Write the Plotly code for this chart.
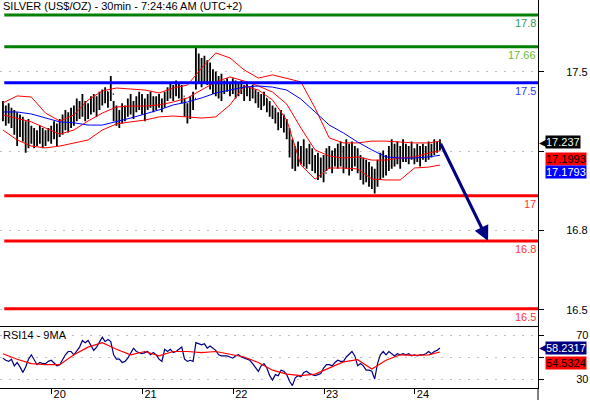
import pandas as pd
import plotly.graph_objects as go

# ---------------- data ----------------
title_text = "SILVER (US$/OZ) - 30min - 7:24:46 AM (UTC+2)"
rsi_title = "RSI14 - 9MA"

first_bar_time = "2017-11-19 11:07"
bar_step = "45min"

high = [17.42, 17.40, 17.41, 17.39, 17.38, 17.37, 17.36, 17.35, 17.33, 17.34,
        17.31, 17.30, 17.29, 17.31, 17.30, 17.29, 17.30, 17.31, 17.33, 17.32,
        17.34, 17.36, 17.38, 17.37, 17.39, 17.40, 17.43, 17.42, 17.45, 17.42,
        17.41, 17.44, 17.45, 17.44, 17.46, 17.47, 17.48, 17.46, 17.53, 17.42,
        17.40, 17.38, 17.41, 17.40, 17.43, 17.45, 17.42, 17.44, 17.46, 17.45,
        17.43, 17.45, 17.46, 17.44, 17.44, 17.45, 17.43, 17.46, 17.48, 17.50,
        17.49, 17.51, 17.50, 17.49, 17.43, 17.41, 17.44, 17.46, 17.66, 17.63,
        17.61, 17.62, 17.60, 17.59, 17.56, 17.55, 17.53, 17.54, 17.51, 17.52,
        17.50, 17.52, 17.51, 17.50, 17.51, 17.49, 17.50, 17.48, 17.49, 17.47,
        17.46, 17.45, 17.46, 17.43, 17.42, 17.40, 17.39, 17.37, 17.38, 17.36,
        17.34, 17.30, 17.25, 17.22, 17.24, 17.22, 17.25, 17.21, 17.23, 17.21,
        17.18, 17.19, 17.17, 17.18, 17.21, 17.22, 17.20, 17.21, 17.23, 17.24,
        17.22, 17.25, 17.23, 17.24, 17.22, 17.21, 17.18, 17.17, 17.16, 17.15,
        17.13, 17.12, 17.16, 17.19, 17.20, 17.18, 17.22, 17.25, 17.23, 17.24,
        17.22, 17.25, 17.23, 17.22, 17.24, 17.21, 17.23, 17.22, 17.23, 17.22,
        17.24, 17.23, 17.25, 17.24, 17.25]
low = [17.33, 17.31, 17.32, 17.30, 17.27, 17.22, 17.26, 17.24, 17.19, 17.21,
       17.23, 17.21, 17.22, 17.23, 17.21, 17.22, 17.24, 17.23, 17.25, 17.22,
       17.26, 17.27, 17.29, 17.28, 17.30, 17.31, 17.33, 17.34, 17.35, 17.33,
       17.34, 17.36, 17.37, 17.35, 17.38, 17.40, 17.41, 17.39, 17.42, 17.33,
       17.31, 17.30, 17.32, 17.33, 17.35, 17.36, 17.34, 17.37, 17.38, 17.36,
       17.33, 17.38, 17.39, 17.37, 17.38, 17.39, 17.37, 17.39, 17.42, 17.43,
       17.42, 17.44, 17.43, 17.41, 17.35, 17.32, 17.34, 17.38, 17.47, 17.50,
       17.48, 17.50, 17.49, 17.47, 17.45, 17.44, 17.43, 17.42, 17.45, 17.46,
       17.44, 17.45, 17.43, 17.44, 17.45, 17.42, 17.44, 17.42, 17.43, 17.41,
       17.39, 17.38, 17.40, 17.37, 17.35, 17.34, 17.32, 17.29, 17.30, 17.28,
       17.25, 17.17, 17.12, 17.11, 17.13, 17.14, 17.13, 17.12, 17.14, 17.11,
       17.10, 17.07, 17.08, 17.06, 17.11, 17.12, 17.10, 17.13, 17.12, 17.13,
       17.10, 17.12, 17.09, 17.11, 17.13, 17.10, 17.07, 17.05, 17.06, 17.04,
       17.03, 17.01, 17.04, 17.07, 17.08, 17.09, 17.11, 17.12, 17.13, 17.14,
       17.12, 17.15, 17.15, 17.14, 17.16, 17.14, 17.15, 17.13, 17.16, 17.15,
       17.16, 17.17, 17.18, 17.19, 17.20]
close = [17.37, 17.35, 17.38, 17.34, 17.33, 17.30, 17.32, 17.28, 17.25, 17.27,
         17.27, 17.25, 17.26, 17.28, 17.24, 17.25, 17.27, 17.29, 17.30, 17.28,
         17.31, 17.33, 17.34, 17.32, 17.35, 17.37, 17.38, 17.40, 17.41, 17.36,
         17.39, 17.41, 17.43, 17.40, 17.44, 17.45, 17.46, 17.43, 17.45, 17.36,
         17.35, 17.34, 17.37, 17.36, 17.39, 17.41, 17.38, 17.40, 17.42, 17.41,
         17.39, 17.42, 17.43, 17.41, 17.42, 17.41, 17.40, 17.44, 17.46, 17.47,
         17.45, 17.48, 17.46, 17.44, 17.38, 17.36, 17.40, 17.43, 17.57, 17.58,
         17.54, 17.56, 17.53, 17.52, 17.50, 17.49, 17.47, 17.48, 17.48, 17.47,
         17.46, 17.49, 17.46, 17.47, 17.48, 17.45, 17.47, 17.44, 17.46, 17.43,
         17.42, 17.40, 17.43, 17.39, 17.38, 17.36, 17.35, 17.33, 17.32, 17.30,
         17.27, 17.20, 17.16, 17.18, 17.17, 17.18, 17.16, 17.17, 17.19, 17.15,
         17.13, 17.12, 17.14, 17.10, 17.17, 17.18, 17.15, 17.17, 17.19, 17.18,
         17.16, 17.20, 17.15, 17.19, 17.17, 17.14, 17.11, 17.10, 17.09, 17.07,
         17.06, 17.05, 17.12, 17.14, 17.16, 17.15, 17.18, 17.19, 17.20, 17.18,
         17.17, 17.21, 17.19, 17.18, 17.20, 17.17, 17.19, 17.18, 17.20, 17.19,
         17.21, 17.20, 17.22, 17.23, 17.237]

# indicators, read every 5th bar (plus the last bar)
band_upper = [17.411, 17.442, 17.437, 17.366, 17.331, 17.358, 17.424, 17.464, 17.477, 17.473,
              17.468, 17.455, 17.477, 17.490, 17.565, 17.632, 17.610, 17.557, 17.521, 17.535,
              17.521, 17.504, 17.388, 17.256, 17.234, 17.234, 17.242, 17.242, 17.238, 17.234,
              17.234, 17.242]
band_mid = [17.358, 17.344, 17.327, 17.300, 17.273, 17.291, 17.331, 17.366, 17.393, 17.397,
            17.397, 17.402, 17.415, 17.433, 17.468, 17.504, 17.526, 17.508, 17.486, 17.459,
            17.406, 17.300, 17.203, 17.176, 17.167, 17.172, 17.158, 17.158, 17.167, 17.172,
            17.189, 17.1993]
band_lower = [17.291, 17.247, 17.220, 17.212, 17.220, 17.234, 17.247, 17.291, 17.318, 17.327,
              17.335, 17.349, 17.353, 17.349, 17.344, 17.349, 17.402, 17.486, 17.468, 17.424,
              17.335, 17.136, 17.074, 17.123, 17.123, 17.119, 17.074, 17.070, 17.070, 17.123,
              17.127, 17.136]
ma_blue = [17.371, 17.371, 17.362, 17.344, 17.327, 17.323, 17.313, 17.313, 17.327, 17.344,
           17.362, 17.380, 17.402, 17.415, 17.433, 17.455, 17.468, 17.481, 17.486, 17.481,
           17.468, 17.428, 17.371, 17.313, 17.278, 17.238, 17.203, 17.172, 17.167, 17.167,
           17.172, 17.1793]

rsi = [49, 47, 46, 48, 42, 45, 41, 36, 41, 48,
       52, 47, 43, 45, 44, 44, 46, 47, 44, 42,
       43, 48, 52, 55, 55, 52, 56, 59, 65, 63,
       65, 61, 56, 59, 64, 68, 64, 66, 64, 52,
       48, 48, 45, 46, 49, 53, 58, 55, 54, 53,
       54, 55, 52, 54, 52, 48, 46, 57, 55, 57,
       54, 55, 57, 59, 48, 46, 47, 46, 63, 62,
       61, 62, 58, 60, 58, 56, 52, 51, 51, 51,
       50, 49, 51, 52, 50, 49, 48, 47, 44, 41,
       37, 42, 44, 40, 33, 29, 34, 33, 38, 37,
       34, 28, 24, 31, 33, 32, 36, 37, 35, 34,
       33, 34, 35, 40, 43, 43, 42, 45, 47, 46,
       46, 50, 53, 55, 51, 42, 44, 42, 38, 38,
       37, 30, 44, 52, 55, 52, 55, 53, 51, 53,
       52, 53, 52, 53, 51, 52, 51, 52, 52, 53,
       55, 53, 55, 56, 58.2317]
rsi_ma = [53, 48, 44, 43, 43, 52, 59, 63, 57, 52, 55, 51, 55, 55, 54, 55,
          52.5, 50, 45, 38, 34.5, 33, 34.5, 40, 45.5, 47.5, 39, 47, 52, 51.5, 52, 54.5324]

level_values = [17.8, 17.66, 17.5, 17.0, 16.8, 16.5]
level_labels = ["17.8", "17.66", "17.5", "17", "16.8", "16.5"]
level_colors = ["#008000", "#008000", "#0000ff", "#ff0000", "#ff0000", "#ff0000"]
level_text_colors = ["#339966", "#66bb33", "#3333ff", "#ff3333", "#ff3333", "#ff3333"]

price_tick_vals = [17.548, 17.198, 16.847, 16.495]
price_tick_text = ["17.5", "", "16.8", "16.5"]
rsi_tick_vals = [70, 50, 30]
rsi_tick_text = ["70", "", "30"]
day_tick_vals = ["2017-11-20", "2017-11-21", "2017-11-22", "2017-11-23", "2017-11-24"]
day_tick_text = ["20", "21", "22", "23", "24"]

x_range = ["2017-11-19 10:20", "2017-11-25 08:32"]
price_range = [16.4239, 17.8664]
rsi_range = [21.82, 78.18]

last_price_text = "17.237"
mid_text = "17.1993"
ma_text = "17.1793"
rsi_text = "58.2317"
rsi_ma_text = "54.5324"

target_price = 16.8
target_time = "2017-11-24 19:20"

# ---------------- figure ----------------
FONT = "Liberation Sans, Arial, sans-serif"
split = 62 / 388

times = pd.date_range(first_bar_time, periods=len(close), freq=bar_step)
open_ = [close[0]] + close[:-1]
ind_idx = list(range(0, len(close), 5)) + [len(close) - 1]
ind_times = times[ind_idx]

fig = go.Figure()
fig.add_trace(go.Ohlc(x=times, open=open_, high=high, low=low, close=close,
                      increasing_line_color="black", decreasing_line_color="black",
                      line_width=1.8, tickwidth=0.3, xaxis="x", yaxis="y",
                      showlegend=False, hoverinfo="skip"))
for series, col in [(band_upper, "#ff0000"), (band_mid, "#ff0000"),
                    (band_lower, "#ff0000"), (ma_blue, "#0000ff")]:
    fig.add_trace(go.Scatter(x=ind_times, y=series, mode="lines",
                             line=dict(color=col, width=1), xaxis="x", yaxis="y",
                             showlegend=False, hoverinfo="skip"))

fig.add_trace(go.Scatter(x=times, y=rsi, mode="lines", line=dict(color="#000080", width=1.2),
                         xaxis="x2", yaxis="y2", showlegend=False, hoverinfo="skip"))
fig.add_trace(go.Scatter(x=ind_times, y=rsi_ma, mode="lines", line=dict(color="#ff0000", width=1.2),
                         xaxis="x2", yaxis="y2", showlegend=False, hoverinfo="skip"))

shapes = []
annotations = []
for v, lab, c, tc in zip(level_values, level_labels, level_colors, level_text_colors):
    shapes.append(dict(type="line", xref="paper", yref="y", x0=0.008, x1=1, y0=v, y1=v,
                       line=dict(color=c, width=3)))
    annotations.append(dict(xref="paper", yref="y", x=1, y=v, xanchor="right", yanchor="top",
                            xshift=-1, yshift=-1, text=lab, showarrow=False, borderpad=0,
                            font=dict(family=FONT, size=11, color=tc)))

# right axis line extension to bottom
shapes.append(dict(type="line", xref="paper", yref="paper", x0=1, x1=1, y0=-0.04, y1=0,
                   line=dict(color="black", width=1)))

annotations.append(dict(xref="paper", yref="paper", x=0, y=1, xanchor="left", yanchor="top",
                        xshift=2, yshift=1, text=title_text, showarrow=False, borderpad=0,
                        font=dict(family=FONT, size=11, color="black")))
annotations.append(dict(xref="paper", yref="paper", x=0, y=split, xanchor="left", yanchor="top",
                        xshift=2, yshift=-2, text=rsi_title, showarrow=False, borderpad=0,
                        font=dict(family=FONT, size=11, color="black")))

box_x = 545 / 538
def value_box(text, yref, y, bg, fg, yshift=0, pointer=False):
    annotations.append(dict(xref="paper", yref=yref, x=box_x, y=y, xanchor="left",
                            yanchor="middle", yshift=yshift, text=text, showarrow=False,
                            bgcolor=bg, borderpad=0,
                            font=dict(family=FONT, size=11, color=fg)))
    if pointer:
        annotations.append(dict(xref="paper", yref=yref, x=1.0, y=y, xanchor="left",
                                yanchor="middle", xshift=0, yshift=yshift, text="\u25C0",
                                showarrow=False, borderpad=0,
                                font=dict(family="DejaVu Sans", size=10, color=bg)))

value_box(last_price_text, "y", close[-1], "black", "#e8fff0", 0, True)
value_box(mid_text, "y", band_mid[-1], "#ff0000", "black", -8)
value_box(ma_text, "y", ma_blue[-1], "#0000ff", "white", -17)
value_box(rsi_text, "y2", rsi[-1], "#000080", "white", 0, True)
value_box(rsi_ma_text, "y2", rsi_ma[-1], "#ff0000", "black", -11)

# forecast arrow
annotations.append(dict(xref="x", yref="y", x=target_time, y=target_price,
                        axref="x", ayref="y", ax=times[-1], ay=close[-1], text="",
                        showarrow=True, arrowhead=2, arrowsize=1, arrowwidth=3,
                        arrowcolor="#000080", standoff=0, startstandoff=0))

grid_dash = "2px,7px"
fig.update_layout(
    template="none",
    width=590, height=400,
    margin=dict(l=0, r=52, t=0, b=12, autoexpand=False),
    paper_bgcolor="white", plot_bgcolor="white",
    font=dict(family=FONT, size=11, color="black"),
    showlegend=False, hovermode=False,
    shapes=shapes, annotations=annotations,
    xaxis=dict(domain=[0, 1], anchor="y", type="date", range=x_range, automargin=False,
               showticklabels=False, showline=True, linecolor="black", linewidth=1,
               ticks="", showgrid=False, zeroline=False,
               rangeslider=dict(visible=False)),
    yaxis=dict(domain=[split, 1], anchor="x", side="right", range=price_range, automargin=False,
               tickvals=price_tick_vals, ticktext=price_tick_text,
               ticks="outside", ticklen=5, tickcolor="black",
               showline=True, linecolor="black", linewidth=1,
               showgrid=True, gridcolor="#c0c0c0", griddash=grid_dash, gridwidth=1,
               zeroline=False, ticklabelstandoff=20,
               tickfont=dict(family=FONT, size=11, color="black")),
    xaxis2=dict(domain=[0, 1], anchor="y2", type="date", range=x_range, automargin=False,
                tickvals=day_tick_vals, ticktext=day_tick_text,
                ticks="outside", ticklen=5, tickcolor="black",
                showline=True, linecolor="black", linewidth=1,
                showgrid=False, zeroline=False,
                ticklabelshift=8, ticklabelstandoff=-9,
                tickfont=dict(family=FONT, size=11, color="black")),
    yaxis2=dict(domain=[0, split], anchor="x2", side="right", range=rsi_range, automargin=False,
                tickvals=rsi_tick_vals, ticktext=rsi_tick_text,
                ticks="outside", ticklen=5, tickcolor="black",
                showline=True, linecolor="black", linewidth=1,
                showgrid=True, gridcolor="#c0c0c0", griddash=grid_dash, gridwidth=1,
                zeroline=False, ticklabelstandoff=30,
                tickfont=dict(family=FONT, size=11, color="black")),
)

fig.write_html("out.html", config={"displayModeBar": False},
               post_script="document.body.style.margin='0';document.body.style.overflow='hidden';")
